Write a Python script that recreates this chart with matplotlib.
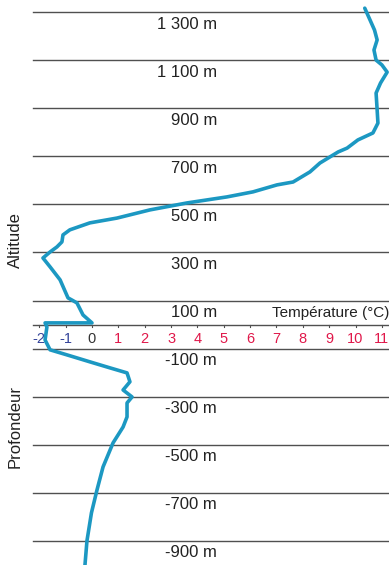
import matplotlib
matplotlib.use("Agg")
import matplotlib.pyplot as plt
from matplotlib import font_manager

names = {f.name for f in font_manager.fontManager.ttflist}
FONT = "Liberation Sans Narrow" if "Liberation Sans Narrow" in names else "Liberation Sans"
plt.rcParams["font.family"] = [FONT, "DejaVu Sans"]

# ---- data ----
temperature = [10.35, 10.55, 10.72, 10.82, 10.70, 10.78, 11.00, 11.20, 10.95, 10.78,
               10.82, 10.85, 10.66, 10.09, 9.68, 9.34, 8.65, 8.27, 7.63, 7.02,
               6.11, 5.12, 3.61, 2.20, 0.95, -0.08, -0.84, -1.10, -1.14, -1.33,
               -1.59, -1.86, -1.59, -1.21, -0.91, -0.76, -0.57, -0.34, 0.00,
               -1.78, -1.71, -1.78, -1.59, -0.95, -0.08, 0.68, 1.33, 1.44, 1.18,
               1.52, 1.33, 1.33, 1.18, 0.80, 0.42, 0.19, -0.02, -0.19, -0.27]
altitude = [1366, 1317, 1275, 1234, 1192, 1150, 1130, 1100, 1055, 1013,
            943, 888, 847, 818, 784, 768, 722, 685, 643, 631,
            602, 581, 556, 527, 493, 473, 444, 423, 394, 373,
            352, 327, 290, 236, 161, 152, 140, 90, 57,
            57, 40, -14, -55, -76, -105, -130, -151, -188, -222,
            -251, -276, -334, -376, -442, -542, -638, -733, -849, -955]

line_levels = [1350, 1150, 950, 750, 550, 350, 150, -50, -250, -450, -650, -850]
level_values = [1300, 1100, 900, 700, 500, 300, 100, -100, -300, -500, -700, -900]
level_labels = ["1 300 m", "1 100 m", "900 m", "700 m", "500 m", "300 m", "100 m",
                "-100 m", "-300 m", "-500 m", "-700 m", "-900 m"]
temp_ticks = list(range(-2, 12))
axis_level = 50

fig = plt.figure(figsize=(3.89, 5.65), dpi=100)
ax = fig.add_axes([0, 0, 1, 1])
ax.set_xlim(-3.49, 11.27)
ax.set_ylim(-950, 1400)
ax.axis("off")

x_start = -2.24
line_col = "#505050"
for lv in line_levels:
    ax.plot([x_start, 11.4], [lv, lv], color=line_col, lw=1.0, zorder=1)
ax.plot([x_start, 11.4], [axis_level, axis_level], color=line_col, lw=1.0, zorder=1)

for t in temp_ticks:
    ax.plot([t, t], [axis_level, axis_level - 9], color=line_col, lw=0.8, zorder=1)
    if t < 0:
        col = "#34449a"
    elif t == 0:
        col = "#333333"
    else:
        col = "#e0184a"
    ax.text(t, -10, str(t), ha="center", va="center", fontsize=10.5, color=col)

for v, lab in zip(level_values, level_labels):
    ax.text(4.74, v, lab, ha="right", va="center", fontsize=12, color="#222222")

ax.text(6.83, 98, "Température (°C)", ha="left", va="center", fontsize=11, color="#222222")
ax.text(-2.92, 402, "Altitude", rotation=90, ha="center", va="center", fontsize=12, color="#222222")
ax.text(-2.92, -376, "Profondeur", rotation=90, ha="center", va="center", fontsize=12, color="#222222")

ax.plot(temperature, altitude, color="#1c98c2", lw=2.6, solid_joinstyle="round",
        solid_capstyle="round", zorder=3)

fig.savefig("out.png", dpi=100)
